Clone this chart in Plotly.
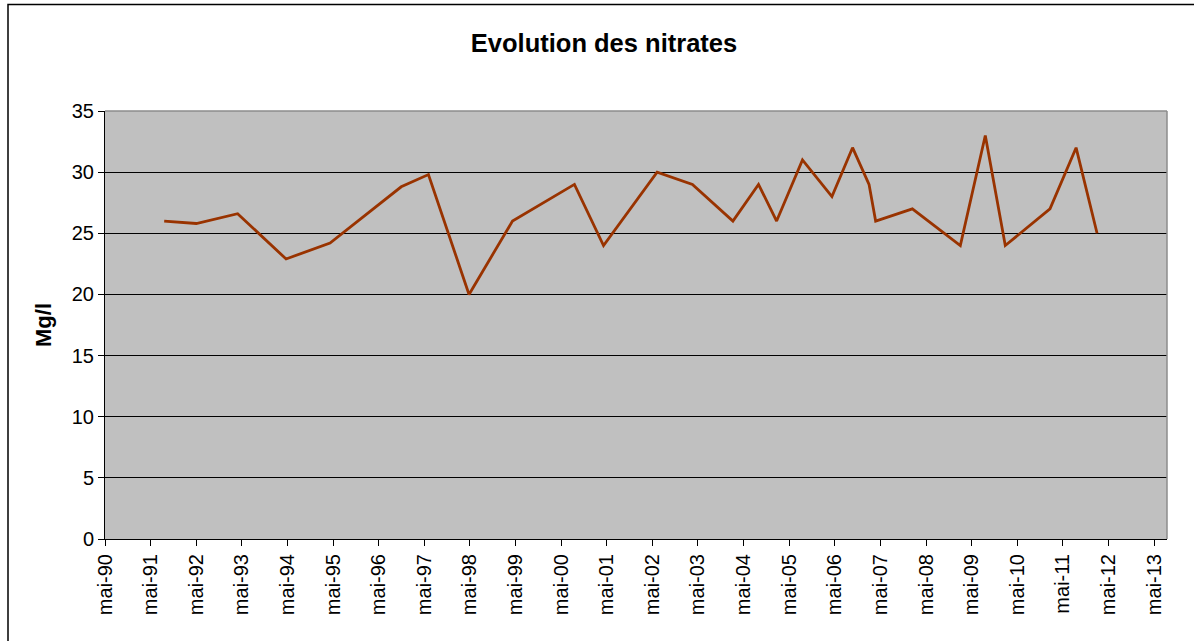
import plotly.graph_objects as go

dates = [
    "1991-08-18", "1992-05-01", "1993-03-28", "1994-04-20", "1995-04-07",
    "1996-10-28", "1997-06-03", "1998-04-24", "1999-04-07", "2000-08-15",
    "2001-04-05", "2002-06-08", "2003-03-18", "2004-02-05", "2004-08-28",
    "2005-01-20", "2005-08-15", "2006-04-08", "2006-09-20", "2007-01-30",
    "2007-03-24", "2008-01-12", "2009-01-30", "2009-08-18", "2010-01-25",
    "2011-01-18", "2011-08-15", "2012-01-30",
]
nitrates = [
    26.0, 25.8, 26.6, 22.9, 24.2,
    28.8, 29.8, 20.0, 26.0, 29.0,
    24.0, 30.0, 29.0, 26.0, 29.0,
    26.0, 31.0, 28.0, 32.0, 29.0,
    26.0, 27.0, 24.0, 33.0, 24.0,
    27.0, 32.0, 25.0,
]
tick_dates = [f"{y}-05-01" for y in range(1990, 2014)]
tick_labels = [f"mai-{y % 100:02d}" for y in range(1990, 2014)]
y_ticks = [0, 5, 10, 15, 20, 25, 30, 35]

FONT = "Liberation Sans, Arial, sans-serif"
PL, PR, PT, PB = 105, 1167, 111, 539  # target plot area in screenshot pixels
W, H = 1194, 641
PW, PH = PR - PL, PB - PT

fig = go.Figure()
fig.add_trace(go.Scatter(
    x=dates, y=nitrates, mode="lines",
    line=dict(color="#993300", width=2.8),
    showlegend=False, hoverinfo="x+y",
))

fig.update_layout(
    width=W, height=H,
    margin=dict(l=PL, r=W - PR, t=PT, b=H - PB),
    paper_bgcolor="white",
    plot_bgcolor="#C0C0C0",
    font=dict(family=FONT, color="black", size=20),
    title=dict(
        text="<b>Evolution des nitrates</b>",
        font=dict(family=FONT, size=25.5, color="black"),
        x=604 / W, xref="container", xanchor="center",
        y=1 - 43 / H, yref="container", yanchor="middle",
    ),
    xaxis=dict(
        type="date",
        range=["1990-05-01", "2013-08-12"],
        tickvals=tick_dates, ticktext=tick_labels,
        tickangle=-90,
        ticks="outside", ticklen=6, tickcolor="black", tickwidth=1,
        showline=True, linecolor="black", linewidth=1,
        showgrid=False, zeroline=False,
        tickfont=dict(family=FONT, size=20, color="black"),
    ),
    yaxis=dict(
        range=[0, 35],
        tickvals=y_ticks,
        ticks="outside", ticklen=6, tickcolor="black", tickwidth=1,
        showline=True, linecolor="black", linewidth=1,
        showgrid=True, gridcolor="black", gridwidth=1,
        zeroline=False,
        tickfont=dict(family=FONT, size=20, color="black"),
    ),
    annotations=[dict(
        text="<b>Mg/l</b>", textangle=-90,
        x=(43 - PL) / PW, y=(PB - 325) / PH, xref="paper", yref="paper",
        xanchor="center", yanchor="middle", showarrow=False,
        font=dict(family=FONT, size=22, color="black"),
    )],
    shapes=[
        dict(type="line", xref="paper", yref="paper", x0=0, x1=1, y0=1, y1=1,
             line=dict(color="#8c8c8c", width=1.5), layer="above"),
        dict(type="line", xref="paper", yref="paper", x0=1, x1=1, y0=0, y1=1,
             line=dict(color="#8c8c8c", width=1.5), layer="above"),
        dict(type="rect", xref="paper", yref="paper",
             x0=(8 - PL) / PW, x1=(1210 - PL) / PW,
             y0=(PB - 660) / PH, y1=1 + (PT - 4.5) / PH,
             line=dict(color="black", width=1.5), fillcolor="rgba(0,0,0,0)",
             layer="below"),
    ],
)

fig.write_html(
    "out.html",
    config={"displayModeBar": False},
    post_script="document.body.style.margin='0';",
)
